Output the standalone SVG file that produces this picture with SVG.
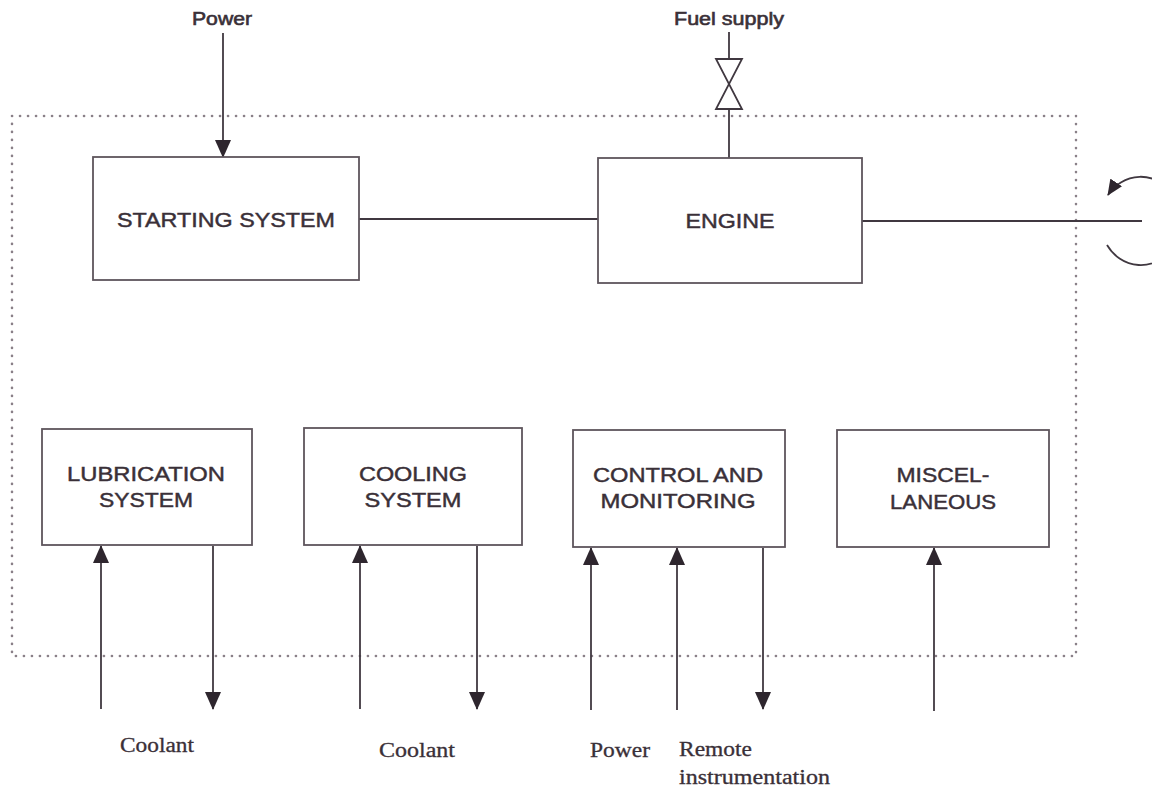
<svg xmlns="http://www.w3.org/2000/svg" width="1152" height="789" viewBox="0 0 1152 789">
  <style>
    .box { fill: #ffffff; stroke: #5e555c; stroke-width: 1.8; }
    .lbl { font-family: "Liberation Sans", Arial, sans-serif; font-size: 20px; fill: #3a3038; stroke: #3a3038; stroke-width: 0.45; text-anchor: middle; }
    .top { font-family: "Liberation Sans", Arial, sans-serif; font-size: 18px; fill: #3a3038; stroke: #3a3038; stroke-width: 0.6; text-anchor: middle; }
    .ext { font-family: "Liberation Serif", "Times New Roman", serif; font-size: 20px; fill: #3a3038; stroke: #3a3038; stroke-width: 0.3; }
    .wire { stroke: #403840; stroke-width: 1.8; fill: none; }
    .arr { stroke: #403840; stroke-width: 1.8; fill: none; marker-end: url(#head); }
    .boundary { fill: none; stroke: #8a8088; stroke-width: 2.6; stroke-linecap: round; stroke-dasharray: 0.1 7.9; }
  </style>
  <defs>
    <marker id="head" viewBox="0 0 18 16" refX="17" refY="8" markerWidth="18" markerHeight="16" markerUnits="userSpaceOnUse" orient="auto">
      <path d="M0,0 L18,8 L0,16 Z" fill="#2e262e"/>
    </marker>
    <marker id="spin" viewBox="0 0 16 14" refX="15" refY="7" markerWidth="16" markerHeight="14" markerUnits="userSpaceOnUse" orient="auto">
      <path d="M0,0 L16,7 L0,14 Z" fill="#2e262e"/>
    </marker>
  </defs>

  <rect width="1152" height="789" fill="#ffffff"/>

  <!-- system boundary -->
  <rect id="boundary" class="boundary" x="12" y="116" width="1064" height="540"/>

  <!-- connectors -->
  <g id="connectors">
    <!-- power into starting system -->
    <line class="arr" x1="223" y1="33" x2="223" y2="157"/>
    <!-- starting system to engine -->
    <line class="wire" x1="359" y1="219" x2="598" y2="219"/>
    <!-- fuel supply with valve -->
    <line class="wire" x1="729" y1="32" x2="729" y2="59"/>
    <path class="wire" d="M716,59 L742,59 L716,109 L742,109 Z"/>
    <line class="wire" x1="729" y1="109" x2="729" y2="158"/>
    <!-- output shaft and rotation -->
    <line class="wire" x1="862" y1="221" x2="1142" y2="221"/>
    <path class="wire" d="M1172,193 A40,43 0 0 0 1108,195" marker-end="url(#spin)"/>
    <path class="wire" d="M1107,245 A40,43 0 0 0 1172,249"/>
    <!-- lubrication -->
    <line class="arr" x1="101" y1="709" x2="101" y2="546"/>
    <line class="arr" x1="213" y1="546" x2="213" y2="709"/>
    <!-- cooling -->
    <line class="arr" x1="360" y1="709" x2="360" y2="546"/>
    <line class="arr" x1="477" y1="546" x2="477" y2="709"/>
    <!-- control and monitoring -->
    <line class="arr" x1="591" y1="710" x2="591" y2="548"/>
    <line class="arr" x1="677" y1="710" x2="677" y2="548"/>
    <line class="arr" x1="763" y1="548" x2="763" y2="709"/>
    <!-- miscellaneous -->
    <line class="arr" x1="934" y1="711" x2="934" y2="548"/>
  </g>

  <!-- external labels -->
  <g id="labels">
    <text class="top" x="222" y="25" textLength="60" lengthAdjust="spacingAndGlyphs">Power</text>
    <text class="top" x="729" y="25" textLength="110" lengthAdjust="spacingAndGlyphs">Fuel supply</text>
    <text class="ext" x="120" y="752" textLength="74" lengthAdjust="spacingAndGlyphs">Coolant</text>
    <text class="ext" x="379" y="757" textLength="76" lengthAdjust="spacingAndGlyphs">Coolant</text>
    <text class="ext" x="590" y="757" textLength="60" lengthAdjust="spacingAndGlyphs">Power</text>
    <text class="ext" x="679" y="756" textLength="73" lengthAdjust="spacingAndGlyphs">Remote</text>
    <text class="ext" x="679" y="784" textLength="151" lengthAdjust="spacingAndGlyphs">instrumentation</text>
  </g>

  <g id="starting-system">
    <rect class="box" x="93" y="157" width="266" height="123"/>
    <text class="lbl" x="226" y="227" textLength="218" lengthAdjust="spacingAndGlyphs">STARTING SYSTEM</text>
  </g>

  <g id="engine">
    <rect class="box" x="598" y="158" width="264" height="125"/>
    <text class="lbl" x="730" y="228" textLength="89" lengthAdjust="spacingAndGlyphs">ENGINE</text>
  </g>

  <g id="lubrication-system">
    <rect class="box" x="42" y="429" width="210" height="116"/>
    <text class="lbl" x="146" y="481" textLength="158" lengthAdjust="spacingAndGlyphs">LUBRICATION</text>
    <text class="lbl" x="146" y="507" textLength="94" lengthAdjust="spacingAndGlyphs">SYSTEM</text>
  </g>

  <g id="cooling-system">
    <rect class="box" x="304" y="428" width="218" height="117"/>
    <text class="lbl" x="413" y="481" textLength="108" lengthAdjust="spacingAndGlyphs">COOLING</text>
    <text class="lbl" x="413" y="507" textLength="97" lengthAdjust="spacingAndGlyphs">SYSTEM</text>
  </g>

  <g id="control-monitoring">
    <rect class="box" x="573" y="430" width="212" height="117"/>
    <text class="lbl" x="678" y="482" textLength="170" lengthAdjust="spacingAndGlyphs">CONTROL AND</text>
    <text class="lbl" x="678" y="508" textLength="155" lengthAdjust="spacingAndGlyphs">MONITORING</text>
  </g>

  <g id="miscellaneous">
    <rect class="box" x="837" y="430" width="212" height="117"/>
    <text class="lbl" x="943" y="482" textLength="93" lengthAdjust="spacingAndGlyphs">MISCEL-</text>
    <text class="lbl" x="943" y="509" textLength="106" lengthAdjust="spacingAndGlyphs">LANEOUS</text>
  </g>
</svg>
